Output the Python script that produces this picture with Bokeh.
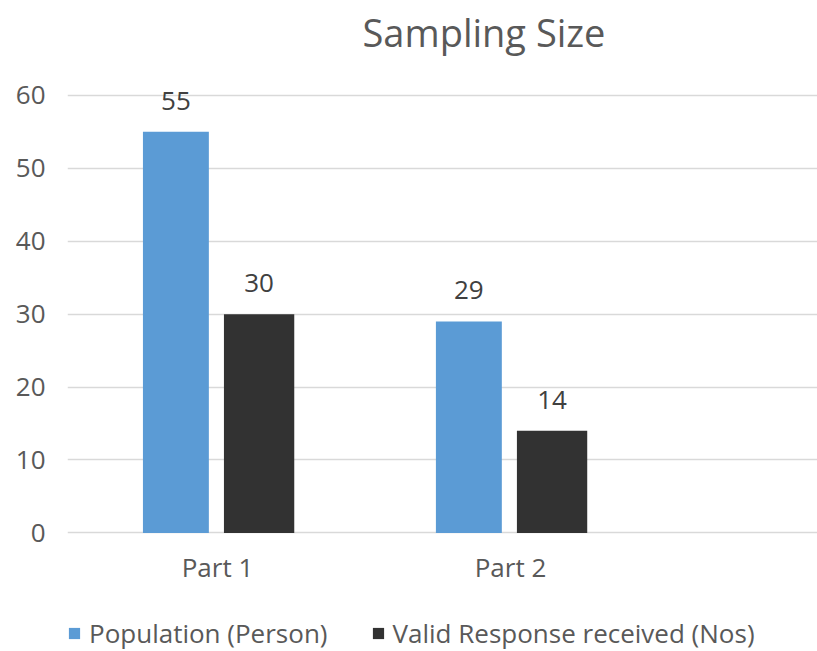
from bokeh.plotting import figure
from bokeh.models import Range1d, FixedTicker, Legend, LegendItem, ColumnDataSource
from bokeh.transform import dodge
from bokeh.core.properties import value
from bokeh.embed import file_html
from bokeh.resources import INLINE

categories = ["Part 1", "Part 2"]
population = [55, 29]
valid_response = [30, 14]
series_names = ["Population (Person)", "Valid Response received (Nos)"]
y_ticks = [0, 10, 20, 30, 40, 50, 60]

FONT = "Open Sans"
TXT = "#595959"

xs = list(range(len(categories)))
src = ColumnDataSource(dict(
    x=xs,
    cat=categories,
    base=[0] * len(categories),
    pop=population,
    val=valid_response,
    pop_lbl=[str(v) for v in population],
    val_lbl=[str(v) for v in valid_response],
))

p = figure(width=817, height=651, output_backend="svg", toolbar_location=None,
           x_range=Range1d(-0.512, 2.048), y_range=Range1d(-16.26, 64.23),
           min_border_left=67, min_border_right=0, min_border_top=62,
           min_border_bottom=0)

p.title.text = "Sampling Size"
p.title.align = "left"
p.title.vertical_align = "top"
p.title.offset = 295
p.title.standoff = 10
p.title.text_font = FONT
p.title.text_font_size = "38px"
p.title.text_font_style = "normal"
p.title.text_color = TXT

r1 = p.vbar(x=dodge("x", -0.142), top="pop", bottom="base", width=0.225,
            source=src, fill_color="#5B9BD5", line_color=None)
r2 = p.vbar(x=dodge("x", 0.142), top="val", bottom="base", width=0.24,
            source=src, fill_color="#323232", line_color=None)

for fx, fy, fl in [(-0.142, "pop", "pop_lbl"), (0.142, "val", "val_lbl")]:
    p.text(x=dodge("x", fx), y=fy, text=fl, source=src, text_align="center",
           text_baseline="middle", y_offset=-31, text_font=value(FONT),
           text_font_size="26px", text_color="#404040")

# category labels under the zero line
p.text(x="x", y="base", text="cat", source=src, text_align="center",
       text_baseline="middle", y_offset=34, text_font=value(FONT),
       text_font_size="26px", text_color=TXT)

p.xaxis.visible = False
p.yaxis.ticker = FixedTicker(ticks=y_ticks)
p.ygrid.ticker = FixedTicker(ticks=y_ticks)
ax = p.yaxis[0]
ax.axis_line_color = None
ax.major_tick_line_color = None
ax.minor_tick_line_color = None
ax.major_tick_out = 0
ax.major_tick_in = 0
ax.minor_tick_out = 0
ax.minor_tick_in = 0
ax.major_label_text_font = FONT
ax.major_label_text_font_size = "26px"
ax.major_label_text_color = TXT
ax.major_label_standoff = 22

p.xgrid.grid_line_color = None
p.ygrid.grid_line_color = "#d9d9d9"
p.ygrid.grid_line_width = 1.5
p.outline_line_color = None

legend = Legend(items=[LegendItem(label=series_names[0], renderers=[r1]),
                       LegendItem(label=series_names[1], renderers=[r2])],
                orientation="horizontal", location=(0, 0),
                padding=0, margin=0, spacing=43, label_standoff=8,
                glyph_width=14, glyph_height=14,
                label_text_font=FONT, label_text_font_size="26px",
                label_text_color=TXT, border_line_color=None,
                background_fill_alpha=0)
p.add_layout(legend)

open("out.html", "w").write(file_html(p, INLINE))
